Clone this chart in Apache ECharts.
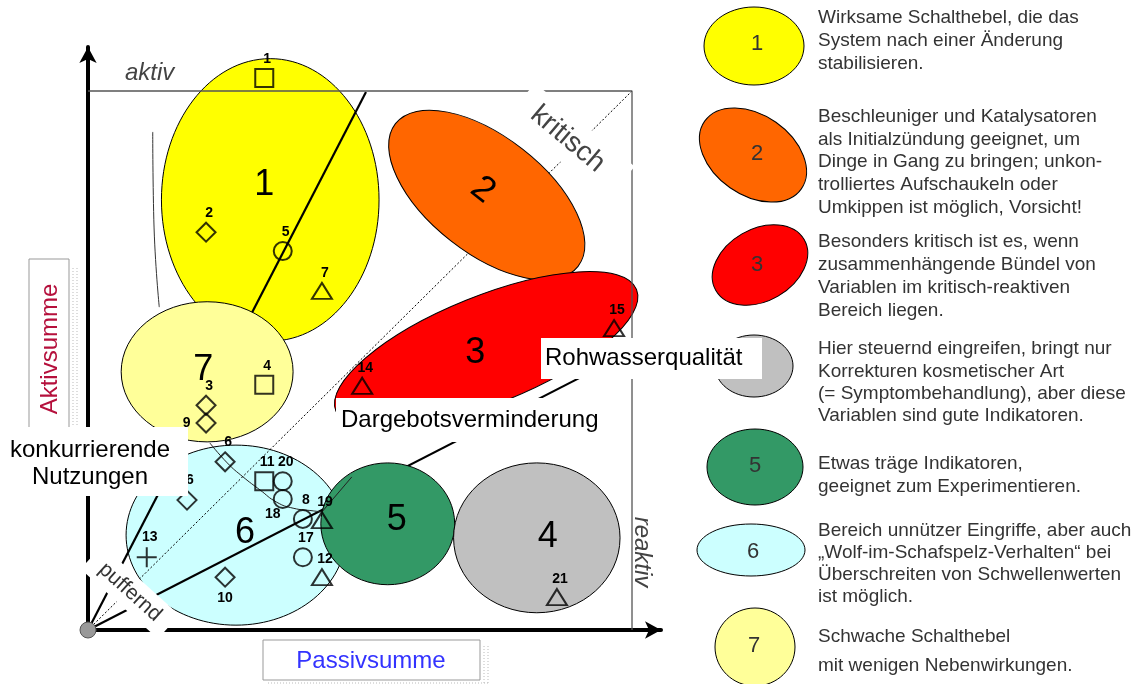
<!DOCTYPE html>
<html>
<head>
<meta charset="utf-8">
<script src="https://cdn.jsdelivr.net/npm/echarts@6/dist/echarts.min.js"></script>
<style>
  html, body { margin: 0; padding: 0; background: #fff; }
  #chart { width: 1137px; height: 684px; }
</style>
</head>
<body>
<div id="chart"></div>
<script>
// Variablen: Passivsumme (x) / Aktivsumme (y), Rahmen = 100
const varIds    = ['1', '2', '5', '7', '4', '3', '9', '6', '6', '11', '20', '18', '8', '19', '17', '12', '10', '13', '14', '15', '21'];
const varPassiv = [32.4, 21.7, 35.8, 43.0, 32.4, 21.7, 21.7, 25.2, 18.2, 32.4, 35.8, 35.8, 39.5, 43.0, 39.5, 43.0, 25.2, 10.8, 50.4, 96.7, 86.2];
const varAktiv  = [102.4, 73.8, 70.3, 62.9, 45.5, 41.7, 38.4, 31.2, 24.1, 27.6, 27.6, 24.3, 20.6, 20.4, 13.5, 9.8, 9.8, 13.5, 45.3, 56.0, 6.1];
const varKind   = ['q', 'd', 'c', 't', 'q', 'd', 'd', 'd', 'd', 'q', 'c', 'c', 'c', 't', 'c', 't', 'd', 'p', 't', 't', 't'];

// Bereiche (Ellipsen im Datenraum), in Zeichenreihenfolge
const zoneIds  = ['6', '1', '2', '3', '7', '5', '4'];
const zoneX    = [27.2, 33.5, 73.3, 73.2, 21.9, 55.1, 82.5];
const zoneY    = [17.6, 79.8, 80.7, 51.9, 47.9, 19.7, 17.1];
const zoneRx   = [20.2, 20.0, 21.3, 29.8, 15.8, 12.3, 15.3];
const zoneRy   = [16.7, 26.2, 10.8, 10.0, 13.0, 11.3, 13.9];
const zoneTilt = [0, 0, -38, 22, 0, 0, 0];

// Linien
const diagonal   = [[0, 0], [100, 100]];
const rayA       = [[0, 0], [51.1, 99.8]];
const rayB       = [[0, 0], [96.0, 49.7]];
const frame      = [[0, 100], [100, 100], [100, 0]];
const strokeLeft = [[11.9, 92.4], [12.1, 76.1], [13.1, 59.9]];
const strokeArc  = [[22.4, 34.7], [25.6, 31.0], [28.5, 28.4], [31.6, 26.0], [34.7, 23.7], [37.7, 22.6], [41.4, 22.1], [43.0, 21.9]];
const strokeUp   = [[43.0, 21.9], [48.5, 28.4]];

const legendText = [
  ['Wirksame Schalthebel, die das', 'System nach einer Änderung', 'stabilisieren.'],
  ['Beschleuniger und Katalysatoren', 'als Initialzündung geeignet, um', 'Dinge in Gang zu bringen; unkon-', 'trolliertes Aufschaukeln oder', 'Umkippen ist möglich, Vorsicht!'],
  ['Besonders kritisch ist es, wenn', 'zusammenhängende Bündel von', 'Variablen im kritisch-reaktiven', 'Bereich liegen.'],
  ['Hier steuernd eingreifen, bringt nur', 'Korrekturen kosmetischer Art', '(= Symptombehandlung), aber diese', 'Variablen sind gute Indikatoren.'],
  ['Etwas träge Indikatoren,', 'geeignet zum Experimentieren.'],
  ['Bereich unnützer Eingriffe, aber auch', '„Wolf-im-Schafspelz-Verhalten“ bei', 'Überschreiten von Schwellenwerten', 'ist möglich.'],
  ['Schwache Schalthebel', 'mit wenigen Nebenwirkungen.']
];

const FONT = '"Liberation Sans", Arial, Helvetica, sans-serif';
const zoneColor = { '1': '#FFFF00', '2': '#FF6600', '3': '#FF0000', '4': '#C0C0C0', '5': '#339966', '6': '#CCFFFF', '7': '#FFFF99' };
const zoneLabelOffset = { '1': [-6, -15], '2': [-4, -5], '3': [-11, 3], '4': [11, -1], '5': [9, -4], '6': [9, -2], '7': [-4, -2] };
const symbolOf = { q: 'rect', d: 'diamond', c: 'circle', t: 'triangle', p: 'path://M0,10L20,10M10,0L10,20' };
const sizeOf = { q: 18, d: [19, 19], c: 18, t: [20, 16], p: 20 };
const halfH = { q: 9, d: 9.5, c: 9, t: 8, p: 10 };
// Sonderfaelle der Nummernposition (Index in varIds)
const labelAt = { 6: 'left', 11: 'below-left', 16: 'below' };

function zoneSeries(ids, z) {
  return {
    type: 'custom', z: z, silent: true, clip: false, animation: false,
    data: ids.map(function (id) {
      const k = zoneIds.indexOf(id);
      return [zoneX[k], zoneY[k], zoneRx[k], zoneRy[k], zoneTilt[k], k];
    }),
    renderItem: function (params, api) {
      const c = api.coord([api.value(0), api.value(1)]);
      const s = api.size([api.value(2) * 2, api.value(3) * 2]);
      const id = zoneIds[api.value(5)];
      const rot = api.value(4) * Math.PI / 180;
      const off = zoneLabelOffset[id];
      return {
        type: 'group',
        children: [
          { type: 'ellipse', x: c[0], y: c[1], rotation: rot,
            shape: { cx: 0, cy: 0, rx: s[0] / 2, ry: s[1] / 2 },
            style: { fill: zoneColor[id], stroke: '#000', lineWidth: 1 } },
          { type: 'text', x: c[0] + off[0], y: c[1] + off[1], rotation: id === '2' ? rot : 0,
            style: { text: id, fill: '#000', font: '36px ' + FONT, align: 'center', verticalAlign: 'middle' } }
        ]
      };
    }
  };
}

function pathSeries(data, z, style, smooth) {
  return { type: 'line', data: data, z: z, silent: true, symbol: 'none', smooth: !!smooth,
    lineStyle: style, clip: false, animation: false };
}

// Legende rechts
const legendShapes = [
  { id: '1', cx: 754, cy: 46, rx: 50, ry: 39, rot: 0, tx: 757, ty: 44 },
  { id: '2', cx: 753, cy: 155, rx: 59, ry: 40, rot: -35, tx: 757, ty: 154 },
  { id: '3', cx: 760, cy: 265, rx: 51, ry: 36, rot: 30, tx: 757, ty: 265 },
  { id: '4', cx: 754, cy: 366, rx: 39, ry: 31, rot: 0, tx: null },
  { id: '5', cx: 755, cy: 467, rx: 48, ry: 38, rot: 0, tx: 755, ty: 466 },
  { id: '6', cx: 751, cy: 550, rx: 54, ry: 26, rot: 0, tx: 753, ty: 552 },
  { id: '7', cx: 755, cy: 647, rx: 40, ry: 39, rot: 0, tx: 754, ty: 646 }
];
const legendFirstLine = [17.5, 117, 242, 349, 464, 531, 637];
const legendLineH = [23, 22.6, 22.8, 22.4, 23, 22, 29];

const graphics = [];
legendShapes.forEach(function (L) {
  graphics.push({ type: 'ellipse', x: L.cx, y: L.cy, rotation: L.rot * Math.PI / 180, z: 100,
    shape: { cx: 0, cy: 0, rx: L.rx, ry: L.ry },
    style: { fill: zoneColor[L.id], stroke: '#000', lineWidth: 1 } });
  if (L.tx !== null) {
    graphics.push({ type: 'text', x: L.tx, y: L.ty, z: 101,
      style: { text: L.id, fill: '#333', font: '22px ' + FONT, align: 'center', verticalAlign: 'middle' } });
  }
});
legendText.forEach(function (lines, i) {
  graphics.push({ type: 'text', x: 818, y: legendFirstLine[i] - legendLineH[i] / 2, z: 101,
    style: { text: lines.join('\n'), fill: '#333', font: '19px ' + FONT, lineHeight: legendLineH[i],
      align: 'left', verticalAlign: 'top' } });
});

// Achsentitel
graphics.push(
  { type: 'line', z: 100, shape: { x1: 73, y1: 268, x2: 73, y2: 427 }, style: { stroke: '#bbb', lineWidth: 1, lineDash: [1, 2] } },
  { type: 'line', z: 100, shape: { x1: 77, y1: 268, x2: 77, y2: 427 }, style: { stroke: '#bbb', lineWidth: 1, lineDash: [1, 2] } },
  { type: 'rect', z: 100, shape: { x: 29, y: 259, width: 40, height: 172 }, style: { fill: '#fff', stroke: '#999', lineWidth: 1 } },
  { type: 'text', z: 101, x: 50, y: 349, rotation: Math.PI / 2,
    style: { text: 'Aktivsumme', fill: '#B5103C', font: '24px ' + FONT, align: 'center', verticalAlign: 'middle' } },
  { type: 'line', z: 100, shape: { x1: 484, y1: 646, x2: 484, y2: 684 }, style: { stroke: '#bbb', lineWidth: 1, lineDash: [1, 2] } },
  { type: 'line', z: 100, shape: { x1: 488, y1: 646, x2: 488, y2: 684 }, style: { stroke: '#bbb', lineWidth: 1, lineDash: [1, 2] } },
  { type: 'line', z: 100, shape: { x1: 268, y1: 683, x2: 488, y2: 683 }, style: { stroke: '#bbb', lineWidth: 1, lineDash: [1, 2] } },
  { type: 'rect', z: 100, shape: { x: 263, y: 640, width: 217, height: 40 }, style: { fill: '#fff', stroke: '#999', lineWidth: 1 } },
  { type: 'text', z: 101, x: 371, y: 661,
    style: { text: 'Passivsumme', fill: '#3333FF', font: '24px ' + FONT, align: 'center', verticalAlign: 'middle' } },
  { type: 'text', z: 101, x: 125, y: 73,
    style: { text: 'aktiv', fill: '#444', font: 'italic 24px ' + FONT, align: 'left', verticalAlign: 'middle' } },
  { type: 'text', z: 101, x: 642, y: 552, rotation: -Math.PI / 2,
    style: { text: 'reaktiv', fill: '#444', font: 'italic 24px ' + FONT, align: 'center', verticalAlign: 'middle' } }
);

// Beschriftungen mit weissem Hintergrund
graphics.push(
  { type: 'rect', z: 110, shape: { x: 0, y: 427, width: 188, height: 69 }, style: { fill: '#fff' } },
  { type: 'text', z: 111, x: 90, y: 464,
    style: { text: 'konkurrierende\nNutzungen', fill: '#000', font: '24px ' + FONT, lineHeight: 27, align: 'center', verticalAlign: 'middle' } },
  { type: 'rect', z: 110, shape: { x: 336, y: 398, width: 283, height: 44 }, style: { fill: '#fff' } },
  { type: 'text', z: 111, x: 341, y: 420,
    style: { text: 'Dargebotsverminderung', fill: '#000', font: '24px ' + FONT, align: 'left', verticalAlign: 'middle' } },
  { type: 'rect', z: 110, shape: { x: 541, y: 338, width: 221, height: 41 }, style: { fill: '#fff' } },
  { type: 'text', z: 111, x: 545, y: 358,
    style: { text: 'Rohwasserqualität', fill: '#000', font: '24px ' + FONT, align: 'left', verticalAlign: 'middle' } },
  { type: 'group', x: 130, y: 592, rotation: -42 * Math.PI / 180, children: [
    { type: 'rect', z: 110, shape: { x: -52, y: -16, width: 104, height: 32 }, style: { fill: '#fff' } },
    { type: 'text', z: 111, x: 0, y: 0,
      style: { text: 'puffernd', fill: '#333', font: '21px ' + FONT, align: 'center', verticalAlign: 'middle' } }
  ] },
  { type: 'group', x: 570, y: 141, rotation: -40 * Math.PI / 180, children: [
    { type: 'rect', z: 110, shape: { x: -64, y: -22, width: 130, height: 44 }, style: { fill: '#fff' } },
    { type: 'text', z: 111, x: -3, y: 0,
      style: { text: 'kritisch', fill: '#444', font: '28px ' + FONT, align: 'center', verticalAlign: 'middle' } }
  ] },
  { type: 'circle', z: 112, shape: { cx: 88, cy: 630, r: 8 }, style: { fill: '#999', stroke: '#555', lineWidth: 1 } }
);

const chart = echarts.init(document.getElementById('chart'));
chart.setOption({
  animation: false,
  grid: { left: 88, top: 47, width: 573, height: 583 },
  xAxis: {
    type: 'value', min: 0, max: 105.33,
    axisLine: { show: true, onZero: false, symbol: ['none', 'arrow'], symbolSize: [13, 16],
      lineStyle: { color: '#000', width: 4 } },
    axisTick: { show: false }, axisLabel: { show: false }, splitLine: { show: false }
  },
  yAxis: {
    type: 'value', min: 0, max: 108.16,
    axisLine: { show: true, onZero: false, symbol: ['none', 'arrow'], symbolSize: [13, 16],
      lineStyle: { color: '#000', width: 4 } },
    axisTick: { show: false }, axisLabel: { show: false }, splitLine: { show: false }
  },
  series: [
    zoneSeries(['6', '1'], 1),
    pathSeries(diagonal, 2, { color: '#000', width: 1, type: [2, 2] }),
    zoneSeries(['2', '3'], 3),
    pathSeries(rayA, 4, { color: '#000', width: 2.2 }),
    pathSeries(rayB, 4, { color: '#000', width: 2.2 }),
    zoneSeries(['7', '5', '4'], 5),
    pathSeries(frame, 6, { color: '#555', width: 1.3 }),
    pathSeries(strokeLeft, 6, { color: '#333', width: 1 }, true),
    pathSeries(strokeArc, 6, { color: '#222', width: 1 }, true),
    pathSeries(strokeUp, 6, { color: '#222', width: 1 }),
    {
      type: 'scatter', z: 7, silent: true, clip: false,
      data: varIds.map(function (id, i) {
        return {
          value: [varPassiv[i], varAktiv[i]], name: id,
          symbol: symbolOf[varKind[i]], symbolSize: sizeOf[varKind[i]]
        };
      }),
      itemStyle: { color: 'rgba(0,0,0,0)', borderColor: '#000', borderWidth: 2 },
      label: { show: false }
    },
    {
      // Nummern der Variablen
      type: 'custom', z: 8, silent: true, clip: false, animation: false,
      data: varIds.map(function (id, i) { return [varPassiv[i], varAktiv[i], i]; }),
      renderItem: function (params, api) {
        const i = api.value(2);
        const c = api.coord([api.value(0), api.value(1)]);
        const h = halfH[varKind[i]];
        const where = labelAt[i] || 'top';
        let x = c[0] + 3, y = c[1] - h - 3, align = 'center', va = 'bottom';
        if (where === 'left') { x = c[0] - h - 6; y = c[1]; align = 'right'; va = 'middle'; }
        if (where === 'below-left') { x = c[0] - 10; y = c[1] + h - 1; va = 'top'; }
        if (where === 'below') { x = c[0]; y = c[1] + h + 4; va = 'top'; }
        return { type: 'text', x: x, y: y,
          style: { text: varIds[i], fill: '#000', font: 'bold 14px ' + FONT, align: align, verticalAlign: va } };
      }
    }
  ],
  graphic: { elements: graphics }
});
</script>
</body>
</html>
